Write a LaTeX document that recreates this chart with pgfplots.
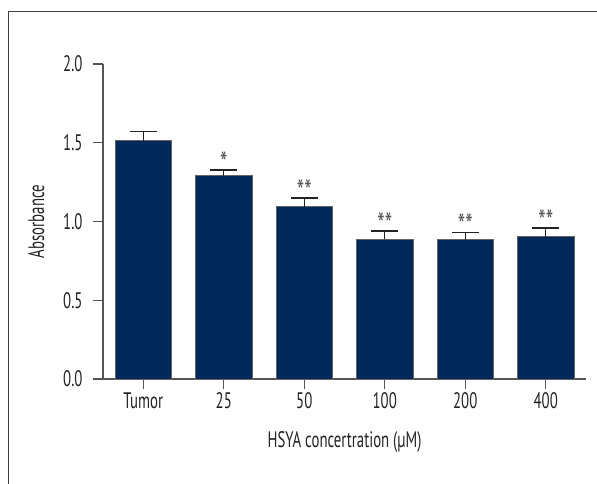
\documentclass[border=0pt]{standalone}
\usepackage{fontspec}
\setmainfont{PT Sans}[FakeStretch=0.66]
\usepackage{pgfplots}
\pgfplotsset{compat=1.18}

\definecolor{barnavy}{RGB}{0,41,91}
\definecolor{edgegray}{RGB}{100,100,100}
\definecolor{axisgray}{RGB}{85,85,85}
\definecolor{textgray}{RGB}{35,35,35}
\definecolor{framegray}{RGB}{60,60,60}

\newcommand{\chartfont}{\fontsize{22.5}{26}\selectfont}
\newcommand{\starfont}{\fontsize{32}{34}\selectfont}

\begin{document}
\begin{tikzpicture}
\useasboundingbox (0,0) rectangle (597bp,484bp);
% outer frame
\draw[framegray, line width=0.9bp] (8bp,473bp) rectangle (640bp,-40bp);
\begin{axis}[
  at={(103bp,105bp)}, anchor=south west,
  scale only axis, width=483bp, height=315bp,
  xmin=-0.5, xmax=5.5, ymin=0, ymax=2,
  axis x line=bottom, axis y line=left,
  axis line style={-, axisgray, line width=1.3bp},
  every tick/.style={axisgray, line width=1.3bp},
  tick align=outside, major tick length=10bp,
  xtick={0,1,2,3,4,5},
  xticklabels={Tumor,25,50,100,200,400},
  ytick={0,0.5,1,1.5,2},
  yticklabel style={/pgf/number format/fixed, /pgf/number format/fixed zerofill,
    /pgf/number format/precision=1, xshift=-7bp},
  /pgf/number format/assume math mode=true,
  tick label style={font=\chartfont, text=textgray},
  label style={font=\chartfont, text=textgray},
  xlabel={HSYA concertration (µM)},
  ylabel={Absorbance},
  xlabel style={at={(axis description cs:0.5,-0.2159)}, anchor=base},
  ylabel style={at={(axis description cs:-0.1380,0.5)}, anchor=center, rotate=0},
  ybar, bar width=56.5bp, bar shift=0pt,
  clip=false,
]
% bars with upper SEM
\addplot[fill=barnavy, draw=edgegray, line width=1bp,
  error bars/.cd, y dir=plus, y explicit, error mark=|,
  error bar style={line width=1.3bp, color=textgray},
  error mark options={line width=1.3bp, color=textgray, mark size=13.5bp}]
  coordinates {
    (0,1.513) +- (0,0.057)
    (1,1.290) +- (0,0.037)
    (2,1.094) +- (0,0.055)
    (3,0.887) +- (0,0.053)
    (4,0.883) +- (0,0.048)
    (5,0.904) +- (0,0.055)
  };
% significance markers above the error bars
\addplot[draw=none, fill=none, forget plot,
  point meta=explicit symbolic,
  nodes near coords,
  nodes near coords style={anchor=center, yshift=7bp, font=\starfont, text=axisgray}]
  coordinates {
    (1,1.327) [*]
    (2,1.149) [**]
    (3,0.940) [**]
    (4,0.931) [**]
    (5,0.959) [**]
  };
\end{axis}
\end{tikzpicture}
\end{document}
